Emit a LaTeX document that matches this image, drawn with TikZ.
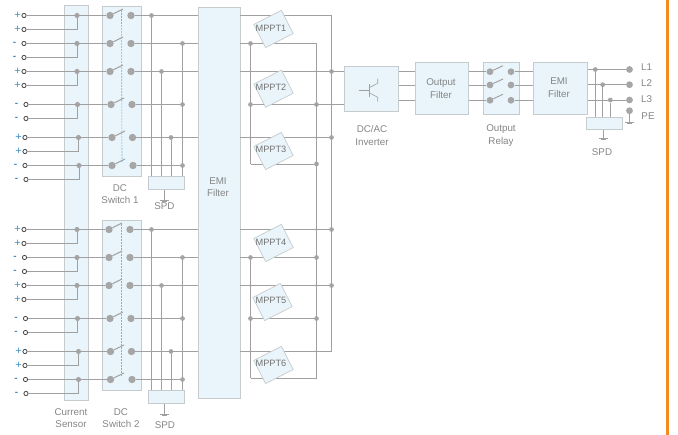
\documentclass[tikz,border=0pt]{standalone}
\usepackage{fontspec}
\setmainfont{Liberation Sans}
\usepackage{tikz}

\definecolor{boxfill}{HTML}{E9F5FB}
\definecolor{boxline}{HTML}{C6CBCD}
\definecolor{wiregray}{HTML}{A0A0A0}
\definecolor{dotgray}{HTML}{A6A6A6}
\definecolor{txtgray}{HTML}{858585}
\definecolor{signblue}{HTML}{3F8FC4}
\definecolor{dashblue}{HTML}{7FB2DC}
\definecolor{barorange}{HTML}{F58A1F}

\tikzset{
	panel/.style={shape=rectangle,draw=boxline,fill=boxfill,line width=0.9pt,inner sep=0pt,anchor=north west},
	wire/.style={draw=wiregray,line width=0.95pt},
	term/.style={shape=circle,draw=black!75,fill=white,line width=0.8pt,inner sep=0pt,minimum size=4.2pt},
	plus/.style={label={[text=signblue,font=\fontsize{11}{11}\selectfont,inner sep=0.4pt]left:+}},
	minus/.style={label={[text=signblue,font=\bfseries\fontsize{10}{10}\selectfont,inner sep=0pt,xshift=-5pt]left:-}},
	swdot/.style={shape=circle,fill=dotgray,inner sep=0pt,minimum size=7.4pt},
	outdot/.style={shape=circle,fill=dotgray,inner sep=0pt,minimum size=6.8pt},
	sendot/.style={shape=circle,fill=dotgray,inner sep=0pt,minimum size=5.2pt},
	joint/.style={shape=circle,fill=dotgray,inner sep=0pt,minimum size=4.8pt},
	tiny/.style={shape=circle,fill=dotgray,inner sep=0pt,minimum size=2.6pt},
	lbl/.style={text=txtgray,font=\fontsize{9.8}{12.4}\selectfont,align=center,inner sep=0pt},
	mpptbox/.style={shape=rectangle,draw=boxline,fill=boxfill,line width=0.7pt,minimum width=31pt,minimum height=26pt,rotate=27,inner sep=0pt},
	mppttxt/.style={text=black!55,font=\fontsize{9.2}{10}\selectfont,inner sep=0pt}
}

\begin{document}
\begin{tikzpicture}[x=1pt,y=-1pt]

	\useasboundingbox (0,0) rectangle (678,435);

	% boxes
	\node[panel,minimum width=24.5pt,minimum height=395pt] (sensor) at (63.5,5) {};
	\node[panel,minimum width=39.5pt,minimum height=170pt] (sw1) at (101.5,6) {};
	\node[panel,minimum width=39.5pt,minimum height=170pt] (sw2) at (101.5,220) {};
	\node[panel,minimum width=36pt,minimum height=13pt] (spd1) at (148,176) {};
	\node[panel,minimum width=36pt,minimum height=13pt] (spd2) at (148,390.5) {};
	\node[panel,minimum width=42pt,minimum height=391pt] (emia) at (197.5,7) {};
	\node[panel,minimum width=54pt,minimum height=45.5pt] (inv) at (344.3,66) {};
	\node[panel,minimum width=53pt,minimum height=52.3pt] (ofilter) at (415.3,61.7) {};
	\node[panel,minimum width=36pt,minimum height=52pt] (relay) at (483.3,62) {};
	\node[panel,minimum width=53.4pt,minimum height=52.3pt] (emib) at (533.3,62) {};
	\node[panel,minimum width=36pt,minimum height=12.6pt] (spd3) at (586.3,116.7) {};

	% DC inputs, switch 1 side
	\node[term,plus] (t1) at (24,15.5) {};
	\node[term,plus] (t2) at (24,29.5) {};
	\node[term,minus] (t3) at (24,43.5) {};
	\node[term,minus] (t4) at (24,57.5) {};
	\node[term,plus] (t5) at (24,71.5) {};
	\node[term,plus] (t6) at (24,85.5) {};
	\node[term,minus] (t7) at (26,104.5) {};
	\node[term,minus] (t8) at (26,118.5) {};
	\node[term,plus] (t9) at (25,137.5) {};
	\node[term,plus] (t10) at (25,151.5) {};
	\node[term,minus] (t11) at (25,165.5) {};
	\node[term,minus] (t12) at (26,179.5) {};

	% DC inputs, switch 2 side
	\node[term,plus] (t13) at (24,229.5) {};
	\node[term,plus] (t14) at (24,243.5) {};
	\node[term,minus] (t15) at (24.5,257.5) {};
	\node[term,minus] (t16) at (24.5,271.5) {};
	\node[term,plus] (t17) at (24,285.5) {};
	\node[term,plus] (t18) at (24,299.5) {};
	\node[term,minus] (t19) at (25.5,318.5) {};
	\node[term,minus] (t20) at (25.5,332.5) {};
	\node[term,plus] (t21) at (25,351.5) {};
	\node[term,plus] (t22) at (25,365.5) {};
	\node[term,minus] (t23) at (25.5,379.5) {};
	\node[term,minus] (t24) at (26,393.5) {};

	% current sensor dots
	\node[sendot] (c1) at (77,15.5) {};
	\node[sendot] (c2) at (77,43.5) {};
	\node[sendot] (c3) at (77,71.5) {};
	\node[sendot] (c4) at (77.5,104.5) {};
	\node[sendot] (c5) at (78.5,137.5) {};
	\node[sendot] (c6) at (79,165.5) {};
	\node[sendot] (c7) at (77,229.5) {};
	\node[sendot] (c8) at (77,257.5) {};
	\node[sendot] (c9) at (77,285.5) {};
	\node[sendot] (c10) at (77.5,318.5) {};
	\node[sendot] (c11) at (78.5,351.5) {};
	\node[sendot] (c12) at (78.5,379.5) {};

	% switch contacts, left
	\node[swdot] (a1) at (110,15.5) {};
	\node[swdot] (a2) at (110,43.5) {};
	\node[swdot] (a3) at (110,71.5) {};
	\node[swdot] (a4) at (111,104.5) {};
	\node[swdot] (a5) at (112,137.5) {};
	\node[swdot] (a6) at (112,165.5) {};
	\node[swdot] (a7) at (109,229.5) {};
	\node[swdot] (a8) at (109,257.5) {};
	\node[swdot] (a9) at (109,285.5) {};
	\node[swdot] (a10) at (110,318.5) {};
	\node[swdot] (a11) at (110.5,351.5) {};
	\node[swdot] (a12) at (110.5,379.5) {};

	% switch contacts, right
	\node[swdot] (b1) at (131,15.5) {};
	\node[swdot] (b2) at (131,43.5) {};
	\node[swdot] (b3) at (131,71.5) {};
	\node[swdot] (b4) at (132,104.5) {};
	\node[swdot] (b5) at (132.5,137.5) {};
	\node[swdot] (b6) at (133,165.5) {};
	\node[swdot] (b7) at (130,229.5) {};
	\node[swdot] (b8) at (130,257.5) {};
	\node[swdot] (b9) at (130,285.5) {};
	\node[swdot] (b10) at (131,318.5) {};
	\node[swdot] (b11) at (131.5,351.5) {};
	\node[swdot] (b12) at (132,379.5) {};

	% blade tips
	\coordinate (p1) at (123,9);
	\coordinate (p2) at (123,37);
	\coordinate (p3) at (123,65);
	\coordinate (p4) at (124,98);
	\coordinate (p5) at (125,131);
	\coordinate (p6) at (125,159);
	\coordinate (p7) at (122,223);
	\coordinate (p8) at (122,251);
	\coordinate (p9) at (122,279);
	\coordinate (p10) at (123,312);
	\coordinate (p11) at (124,345);
	\coordinate (p12) at (124,373);
	\coordinate (h1) at (121.5,10);
	\coordinate (h2) at (122,163);
	\coordinate (h3) at (121,224);
	\coordinate (h4) at (121,377);

	% wires, sources to switches
	\path[wire] (t1) edge (a1);
	\path[wire] (t3) edge (a2);
	\path[wire] (t5) edge (a3);
	\path[wire] (t7) edge (a4);
	\path[wire] (t9) edge (a5);
	\path[wire] (t11) edge (a6);
	\path[wire] (t13) edge (a7);
	\path[wire] (t15) edge (a8);
	\path[wire] (t17) edge (a9);
	\path[wire] (t19) edge (a10);
	\path[wire] (t21) edge (a11);
	\path[wire] (t23) edge (a12);
	\draw[wire] (t2) -| (c1);
	\draw[wire] (t4) -| (c2);
	\draw[wire] (t6) -| (c3);
	\draw[wire] (t8) -| (c4);
	\draw[wire] (t10) -| (c5);
	\draw[wire] (t12) -| (c6);
	\draw[wire] (t14) -| (c7);
	\draw[wire] (t16) -| (c8);
	\draw[wire] (t18) -| (c9);
	\draw[wire] (t20) -| (c10);
	\draw[wire] (t22) -| (c11);
	\draw[wire] (t24) -| (c12);

	% blades and the ganged link
	\path[wire] (a1) edge (p1);
	\path[wire] (a2) edge (p2);
	\path[wire] (a3) edge (p3);
	\path[wire] (a4) edge (p4);
	\path[wire] (a5) edge (p5);
	\path[wire] (a6) edge (p6);
	\path[wire] (a7) edge (p7);
	\path[wire] (a8) edge (p8);
	\path[wire] (a9) edge (p9);
	\path[wire] (a10) edge (p10);
	\path[wire] (a11) edge (p11);
	\path[wire] (a12) edge (p12);
	\path[draw=dashblue,dashed,line width=0.6pt,dash pattern=on 2pt off 1pt] (h1) edge (h2);
	\path[draw=dashblue,dashed,line width=0.6pt,dash pattern=on 2pt off 1pt] (h3) edge (h4);

	% SPD joints of switch 1
	\node[joint] (j1) at (151.5,15.5) {};
	\node[joint] (j2) at (182.5,43.5) {};
	\node[joint] (j3) at (161.5,71.5) {};
	\node[joint] (j4) at (182.5,104.5) {};
	\node[joint] (j5) at (171,137.5) {};
	\node[joint] (j6) at (182.5,165.5) {};

	% SPD joints of switch 2
	\node[joint] (j7) at (151.5,229.5) {};
	\node[joint] (j8) at (182.5,257.5) {};
	\node[joint] (j9) at (161.5,285.5) {};
	\node[joint] (j10) at (182.5,318.5) {};
	\node[joint] (j11) at (171,351.5) {};
	\node[joint] (j12) at (182.5,379.5) {};

	\coordinate (e1) at (197.5,15.5);
	\coordinate (e2) at (197.5,43.5);
	\coordinate (e3) at (197.5,71.5);
	\coordinate (e5) at (197.5,137.5);
	\coordinate (e7) at (197.5,229.5);
	\coordinate (e8) at (197.5,257.5);
	\coordinate (e9) at (197.5,285.5);
	\coordinate (e11) at (197.5,351.5);

	\path[wire] (b1) edge (e1);
	\path[wire] (b2) edge (e2);
	\path[wire] (b3) edge (e3);
	\path[wire] (b4) edge (j4);
	\path[wire] (b5) edge (e5);
	\path[wire] (b6) edge (j6);
	\path[wire] (b7) edge (e7);
	\path[wire] (b8) edge (e8);
	\path[wire] (b9) edge (e9);
	\path[wire] (b10) edge (j10);
	\path[wire] (b11) edge (e11);
	\path[wire] (b12) edge (j12);

	\path[wire] (j1) edge (j1 |- spd1.north);
	\path[wire] (j3) edge (j3 |- spd1.north);
	\path[wire] (j5) edge (j5 |- spd1.north);
	\path[wire] (j2) edge (j2 |- spd1.north);
	\path[wire] (j7) edge (j7 |- spd2.north);
	\path[wire] (j9) edge (j9 |- spd2.north);
	\path[wire] (j11) edge (j11 |- spd2.north);
	\path[wire] (j8) edge (j8 |- spd2.north);

	% grounds
	\coordinate (g1) at (164.5,200);
	\coordinate (g2) at (164.5,414);
	\coordinate (g3) at (603.5,138);
	\path[wire] (g1 |- spd1.south) edge (g1);
	\path[wire] (g2 |- spd2.south) edge (g2);
	\path[wire] (g3 |- spd3.south) edge (g3);
	\draw[wire] ([xshift=-4.5pt]g1) -- ([xshift=4.5pt]g1);
	\draw[wire] ([xshift=-2.5pt,yshift=-1.8pt]g1) -- ([xshift=2.5pt,yshift=-1.8pt]g1);
	\draw[wire] ([xshift=-4.5pt]g2) -- ([xshift=4.5pt]g2);
	\draw[wire] ([xshift=-2.5pt,yshift=-1.8pt]g2) -- ([xshift=2.5pt,yshift=-1.8pt]g2);
	\draw[wire] ([xshift=-4.5pt]g3) -- ([xshift=4.5pt]g3);
	\draw[wire] ([xshift=-2.5pt,yshift=-1.8pt]g3) -- ([xshift=2.5pt,yshift=-1.8pt]g3);

	% MPPT wiring
	\coordinate (q1) at (239.5,15.5);
	\coordinate (q2) at (239.5,43.5);
	\coordinate (q3) at (239.5,71.5);
	\coordinate (q5) at (239.5,137.5);
	\coordinate (q7) at (239.5,229.5);
	\coordinate (q8) at (239.5,257.5);
	\coordinate (q9) at (239.5,285.5);
	\coordinate (q11) at (239.5,351.5);

	\node[joint] (k1) at (250.5,43.5) {};
	\node[joint] (k2) at (250.5,104.5) {};
	\node[joint] (k3) at (316.5,104.5) {};
	\node[joint] (k4) at (316.5,164) {};
	\node[joint] (k5) at (331.5,71.5) {};
	\node[joint] (k6) at (331.5,137.5) {};
	\node[joint] (k7) at (331.5,229.5) {};
	\node[joint] (k8) at (331.5,285.5) {};
	\node[joint] (k9) at (250.5,257.5) {};
	\node[joint] (k10) at (316.5,257.5) {};
	\node[joint] (k11) at (250.5,318.5) {};
	\node[joint] (k12) at (316.5,318.5) {};

	\node[tiny] (n1) at (250.5,71.5) {};
	\node[tiny] (n2) at (316.5,71.5) {};
	\node[tiny] (n3) at (331.5,104.5) {};
	\node[tiny] (n4) at (250.5,137.5) {};
	\node[tiny] (n5) at (316.5,137.5) {};
	\node[tiny] (n6) at (316.5,229.5) {};
	\node[tiny] (n7) at (250.5,285.5) {};
	\node[tiny] (n8) at (316.5,285.5) {};
	\node[tiny] (n9) at (250.5,351.5) {};
	\node[tiny] (n10) at (316.5,351.5) {};

	\coordinate (r1) at (331.5,15.5);
	\coordinate (r2) at (316.5,43.5);
	\coordinate (r3) at (250.5,164);
	\coordinate (r4) at (331.5,351.5);
	\coordinate (r5) at (316.5,378);
	\coordinate (r6) at (250.5,378);

	\path[wire] (q1) edge (r1);
	\path[wire] (q2) edge (r2);
	\path[wire] (q3) edge (k5 -| inv.west);
	\path[wire] (k2) edge (k2 -| inv.west);
	\path[wire] (q5) edge (k6);
	\path[wire] (r3) edge (k4);
	\path[wire] (q7) edge (k7);
	\path[wire] (q8) edge (k10);
	\path[wire] (q9) edge (k8);
	\path[wire] (k11) edge (k12);
	\path[wire] (q11) edge (r4);
	\path[wire] (r6) edge (r5);
	\path[wire] (r1) edge (r4);
	\path[wire] (r2) edge (r5);
	\path[wire] (k1) edge (r3);
	\path[wire] (k9) edge (r6);

	% MPPT blocks
	\node[mpptbox] (mb1) at (273.5,29) {};
	\node[mpptbox] (mb2) at (273.5,88.7) {};
	\node[mpptbox] (mb3) at (273.5,151) {};
	\node[mpptbox] (mb4) at (273.5,243) {};
	\node[mpptbox] (mb5) at (272.5,302) {};
	\node[mpptbox] (mb6) at (273.5,365) {};
	\node[mppttxt] (m1) at (271,28) {MPPT1};
	\node[mppttxt] (m2) at (271,87.5) {MPPT2};
	\node[mppttxt] (m3) at (271,149.5) {MPPT3};
	\node[mppttxt] (m4) at (271,242.5) {MPPT4};
	\node[mppttxt] (m5) at (271,300) {MPPT5};
	\node[mppttxt] (m6) at (271,363) {MPPT6};

	% inverter symbol
	\coordinate (tb) at (358.5,90);
	\coordinate (tg) at (369,90);
	\draw[wire,line width=0.6pt] (tb) -- (tg);
	\draw[wire,line width=0.6pt] (369,84.3) -- (369,96.7);
	\draw[wire,line width=0.6pt] (369,87.7) -- (377.7,83.3) -- (377.7,78.7);
	\draw[wire,line width=0.6pt] (369,92.7) -- (377.7,97.3) -- (377.7,101.7);

	% AC side
	\node[outdot] (ra1) at (490,71.7) {};
	\node[outdot] (ra2) at (490,85) {};
	\node[outdot] (ra3) at (490,100.3) {};
	\node[outdot] (rb1) at (511,71.7) {};
	\node[outdot] (rb2) at (511,85) {};
	\node[outdot] (rb3) at (511,100.3) {};
	\coordinate (rp1) at (503,65.7);
	\coordinate (rp2) at (503,79);
	\coordinate (rp3) at (503,94.3);

	\path[wire] (ra1) edge (rp1);
	\path[wire] (ra2) edge (rp2);
	\path[wire] (ra3) edge (rp3);
	\path[wire] (inv.east |- ra1) edge (ofilter.west |- ra1);
	\path[wire] (inv.east |- ra2) edge (ofilter.west |- ra2);
	\path[wire] (inv.east |- ra3) edge (ofilter.west |- ra3);
	\path[wire] (ofilter.east |- ra1) edge (ra1);
	\path[wire] (ofilter.east |- ra2) edge (ra2);
	\path[wire] (ofilter.east |- ra3) edge (ra3);
	\path[wire] (rb1) edge (emib.west |- rb1);
	\path[wire] (rb2) edge (emib.west |- rb2);
	\path[wire] (rb3) edge (emib.west |- rb3);

	\node[outdot] (o1) at (629.5,69.5) {};
	\node[outdot] (o2) at (629.5,84.7) {};
	\node[outdot] (o3) at (629.5,100) {};
	\node[outdot] (o4) at (629.5,110.7) {};
	\node[joint] (d1) at (595.3,69.5) {};
	\node[joint] (d2) at (602.7,84.7) {};
	\node[joint] (d3) at (610.3,100) {};
	\coordinate (g4) at (629.5,122);

	\path[wire] (emib.east |- o1) edge (o1);
	\path[wire] (emib.east |- o2) edge (o2);
	\path[wire] (emib.east |- o3) edge (o3);
	\path[wire] (d1) edge (d1 |- spd3.north);
	\path[wire] (d2) edge (d2 |- spd3.north);
	\path[wire] (d3) edge (d3 |- spd3.north);
	\path[wire] (o4) edge (g4);
	\draw[wire] ([xshift=-4.5pt]g4) -- ([xshift=4.5pt]g4);
	\draw[wire] ([xshift=-2.5pt,yshift=-1.8pt]g4) -- ([xshift=2.5pt,yshift=-1.8pt]g4);

	% labels
	\node[lbl] (lsen) at (71,418) {Current\\Sensor};
	\node[lbl] (lsw1) at (120,194) {DC\\Switch 1};
	\node[lbl] (lsw2) at (121,418) {DC\\Switch 2};
	\node[lbl] (lspd1) at (164.5,206) {SPD};
	\node[lbl] (lspd2) at (165,425) {SPD};
	\node[lbl] (lspd3) at (602,152) {SPD};
	\node[lbl] (lemia) at (218,187) {EMI\\Filter};
	\node[lbl] (linv) at (372,135.5) {DC/AC\\Inverter};
	\node[lbl] (lof) at (441,88.5) {Output\\Filter};
	\node[lbl] (lrel) at (501,135.5) {Output\\Relay};
	\node[lbl] (lemib) at (559,87.5) {EMI\\Filter};
	\node[lbl] (ll1) at (646.5,67) {L1};
	\node[lbl] (ll2) at (646.5,83) {L2};
	\node[lbl] (ll3) at (646.5,99) {L3};
	\node[lbl] (lpe) at (648,116) {PE};

	% page edge
	\node[shape=rectangle,fill=barorange,inner sep=0pt,minimum width=3pt,minimum height=435pt,anchor=north west] (edgebar) at (666,0) {};

\end{tikzpicture}
\end{document}
